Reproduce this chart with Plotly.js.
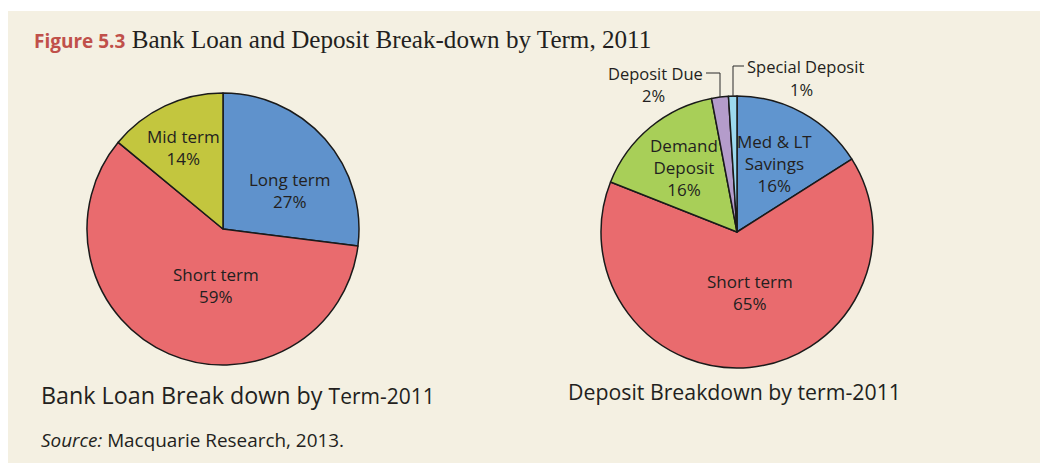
<!DOCTYPE html>
<html>
<head>
<meta charset="utf-8">
<script src="https://cdn.plot.ly/plotly-3.0.1.min.js"></script>
<style>html,body{margin:0;padding:0;background:#fff}#chart{width:1040px;height:465px}</style>
</head>
<body>
<div id="chart"></div>
<script>
// Data
const loanLabels = ["Long term", "Short term", "Mid term"];
const loanValues = [27, 59, 14];
const loanColors = ["#5f92cc", "#e96b6e", "#c3c63e"];

const depositLabels = ["Med & LT<br>Savings", "Short term", "Demand<br>Deposit", "Deposit Due", "Special Deposit"];
const depositValues = [16, 65, 16, 2, 1];
const depositColors = ["#6095cf", "#e96b6e", "#a8cf58", "#b49ccb", "#9cd9ee"];

const titleText = '<span style="font-family:\'Open Sans\';font-weight:bold;color:#c0504a;font-size:19px">Figure 5.3</span> Bank Loan and Deposit Break-down by Term, 2011';

const W = 1040, H = 465;
const px = x => x / W;
const py = y => 1 - y / H;

const traces = [
  {
    type: "pie", sort: false, direction: "clockwise", rotation: 0,
    labels: loanLabels, values: loanValues, textinfo: "none",
    marker: {colors: loanColors, line: {color: "#1a1a1a", width: 1.5}},
    domain: {x: [px(87), px(359)], y: [py(365), py(93)]},
    showlegend: false, hoverinfo: "label+percent"
  },
  {
    type: "pie", sort: false, direction: "clockwise", rotation: 0,
    labels: depositLabels, values: depositValues, textinfo: "none",
    marker: {colors: depositColors, line: {color: "#1a1a1a", width: 1.5}},
    domain: {x: [px(601), px(873)], y: [py(368), py(96)]},
    showlegend: false, hoverinfo: "label+percent"
  }
];

const txt = {family: "Open Sans", size: 17, color: "#231f20"};
const outTxt = {family: "Open Sans", size: 16.5, color: "#231f20"};
function lab(text, x, y, font, xa) {
  return {text: text, xref: "paper", yref: "paper", x: px(x), y: py(y), xanchor: xa || "center", yanchor: "middle",
          showarrow: false, font: font || txt, align: "center"};
}
// slice labels (positions of label centres, in pixels)
const sliceLabels = [
  lab(loanLabels[2] + "<br>" + loanValues[2] + "%", 183, 147),
  lab(loanLabels[0] + "<br>" + loanValues[0] + "%", 289, 190),
  lab(loanLabels[1] + "<br>" + loanValues[1] + "%", 216, 285),
  lab(depositLabels[0] + "<br>" + depositValues[0] + "%", 774, 163),
  lab(depositLabels[2] + "<br>" + depositValues[2] + "%", 684, 167),
  lab(depositLabels[1] + "<br>" + depositValues[1] + "%", 750, 292)
];

const layout = {
  width: W, height: H,
  margin: {l: 0, r: 0, t: 0, b: 0},
  paper_bgcolor: "#ffffff",
  title: {
    text: titleText,
    font: {family: "Liberation Serif", size: 25.1, color: "#231f20"},
    x: px(34), xanchor: "left", y: py(39), yanchor: "middle"
  },
  shapes: [
    {type: "rect", xref: "paper", yref: "paper", x0: px(8), x1: 1, y0: py(463), y1: py(11),
     fillcolor: "#f4f0e2", line: {width: 0}, layer: "below"},
    {type: "path", xref: "paper", yref: "paper",
     path: `M ${px(706)} ${py(73)} L ${px(720)} ${py(73)} L ${px(720)} ${py(97)}`,
     line: {color: "#2a2a2a", width: 1}},
    {type: "path", xref: "paper", yref: "paper",
     path: `M ${px(744)} ${py(66)} L ${px(733)} ${py(66)} L ${px(733)} ${py(97)}`,
     line: {color: "#2a2a2a", width: 1}}
  ],
  annotations: sliceLabels.concat([
    lab(depositLabels[3], 705, 73, outTxt, "right"),
    lab(depositValues[3] + "%", 653, 95, outTxt),
    lab(depositLabels[4], 745, 66, outTxt, "left"),
    lab(depositValues[4] + "%", 801, 89, outTxt),
    lab('Bank Loan Break down by <span style="font-size:21px">Term-2011</span>', 39, 395,
        {family: "Open Sans", size: 23.3, color: "#231f20"}, "left"),
    lab("Deposit Breakdown by term-2011", 566, 391, {family: "Open Sans", size: 21.3, color: "#231f20"}, "left"),
    lab("<i>Source:</i> Macquarie Research, 2013.", 39, 440, {family: "Open Sans", size: 18.9, color: "#231f20"}, "left")
  ])
};

Plotly.newPlot("chart", traces, layout, {displayModeBar: false, staticPlot: true});
</script>
</body>
</html>
